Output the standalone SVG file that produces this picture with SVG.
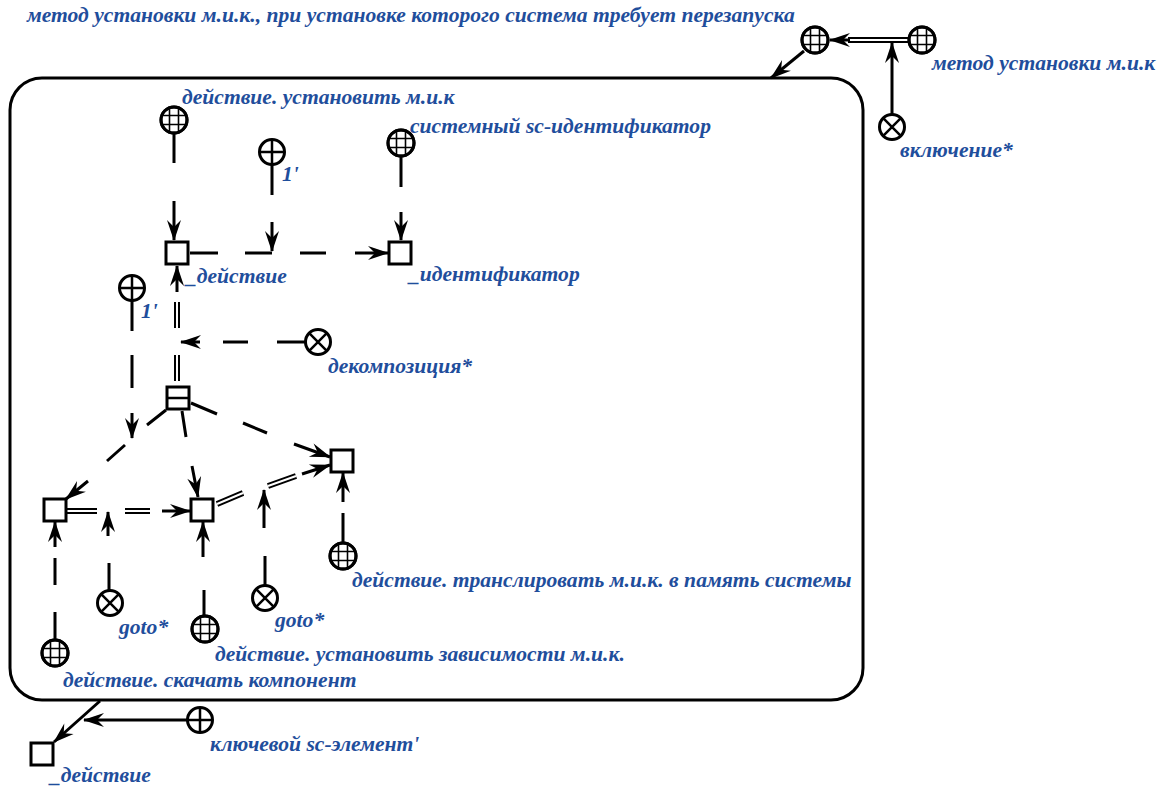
<svg xmlns="http://www.w3.org/2000/svg" xmlns:xlink="http://www.w3.org/1999/xlink" width="1163" height="790" viewBox="0 0 1163 790">
<style>
text{font-family:"Liberation Serif","DejaVu Serif",serif;font-weight:bold;font-style:italic;font-size:21.6px;fill:#1f4e9c}
.ln{fill:none;stroke:#000;stroke-width:3}
.dl{fill:none;stroke:#000;stroke-width:6}
.dw{fill:none;stroke:#fff;stroke-width:2}
.nd{fill:#fff;stroke:#000;stroke-width:3}
.gr{stroke:#000;stroke-width:1.6}
</style>
<defs>
<marker id="ar" viewBox="-22 -8 24 16" markerWidth="24" markerHeight="16" refX="0" refY="0" orient="auto" markerUnits="userSpaceOnUse">
<path d="M1,0 L-20,-7 L-13,0 L-20,7 z" fill="#000"/>
</marker>
<clipPath id="cc"><circle r="12"/></clipPath>
<g id="cls"><circle r="13" class="nd"/><g clip-path="url(#cc)"><path class="gr" d="M-4.5,-13V13M4.5,-13V13M-13,-4.5H13M-13,4.5H13"/></g><circle r="13" fill="none" stroke="#000" stroke-width="3"/></g>
<g id="pls"><circle r="12.5" class="nd"/><path stroke="#000" stroke-width="2.5" d="M0,-12.5V12.5M-12.5,0H12.5"/></g>
<g id="rel"><circle r="12.5" class="nd"/><path stroke="#000" stroke-width="2.5" d="M-8.8,-8.8L8.8,8.8M8.8,-8.8L-8.8,8.8"/></g>
<rect id="sq" x="-11" y="-11" width="22" height="22" class="nd"/>
</defs>

<g id="connectors">
<rect x="10" y="78" width="853" height="622" rx="32" ry="32" fill="none" stroke="#000" stroke-width="3"/>
<path class="dl" d="M909,40H848"/><path class="dw" d="M909,40H848"/>
<path class="ln" d="M850,40H830" marker-end="url(#ar)"/>
<path class="ln" d="M892,114V43" marker-end="url(#ar)"/>
<path class="ln" d="M804,51L771,78" marker-end="url(#ar)"/>
<path class="ln" d="M100,701L54,742" marker-end="url(#ar)"/>
<path class="ln" d="M187,720H84" marker-end="url(#ar)"/>
<path class="ln" d="M174,133V163M174,201V240" marker-end="url(#ar)"/>
<path class="ln" d="M190,253H218M245,253H272M300,253H326M355,253H388" marker-end="url(#ar)"/>
<path class="ln" d="M272,164V195M272,222V251" marker-end="url(#ar)"/>
<path class="ln" d="M401,156V187M401,212V240" marker-end="url(#ar)"/>
<path class="dl" d="M177,381V355M177,328V302"/><path class="dw" d="M177,381V355M177,328V302"/>
<path class="ln" d="M177,292V266" marker-end="url(#ar)"/>
<path class="ln" d="M305,342H277M248,342H223M200,342H181" marker-end="url(#ar)"/>
<path class="ln" d="M132,300V331M132,355V388M132,413V438" marker-end="url(#ar)"/>
<path class="ln" d="M166,410L147,425M125,445L107,461M88,481L66,499" marker-end="url(#ar)"/>
<path class="ln" d="M182,411L186,437M192,466L198,497" marker-end="url(#ar)"/>
<path class="ln" d="M191,403L217,414M243,423L267,433M294,444L330,457" marker-end="url(#ar)"/>
<path class="dl" d="M67,511H97M125,511H150"/><path class="dw" d="M67,511H97M125,511H150"/>
<path class="ln" d="M162,511H190" marker-end="url(#ar)"/>
<path class="ln" d="M109,590V563M108,536V512" marker-end="url(#ar)"/>
<path class="dl" d="M217,504L243,493M268,486L296,476"/><path class="dw" d="M217,504L243,493M268,486L296,476"/>
<path class="ln" d="M302,474L330,465" marker-end="url(#ar)"/>
<path class="ln" d="M265,585V556M264,528V490" marker-end="url(#ar)"/>
<path class="ln" d="M55,640V612M55,585V558M55,547V522" marker-end="url(#ar)"/>
<path class="ln" d="M204,616V590M203,557V522" marker-end="url(#ar)"/>
<path class="ln" d="M343,543V513M343,502V473" marker-end="url(#ar)"/>
</g>

<g id="nA"><use xlink:href="#cls" x="815" y="40"/><text x="27" y="22">метод установки м.и.к., при установке которого система требует перезапуска</text></g>
<g id="nB"><use xlink:href="#cls" x="922" y="40"/><text x="932" y="70">метод установки м.и.к</text></g>
<g id="nInc"><use xlink:href="#rel" x="892" y="127"/><text x="900" y="157">включение*</text></g>
<g id="nN1"><use xlink:href="#cls" x="174" y="120"/><text x="182" y="104">действие. установить м.и.к</text></g>
<g id="nP1"><use xlink:href="#pls" x="272" y="152"/><text x="282" y="181">1'</text></g>
<g id="nN2"><use xlink:href="#cls" x="401" y="143"/><text x="410" y="133">системный sc-идентификатор</text></g>
<g id="nS1"><use xlink:href="#sq" x="177" y="253"/><text x="186" y="283">_действие</text></g>
<g id="nS2"><use xlink:href="#sq" x="400" y="253"/><text x="409" y="281">_идентификатор</text></g>
<g id="nP2"><use xlink:href="#pls" x="132" y="288"/><text x="141" y="318">1'</text></g>
<g id="nX1"><use xlink:href="#rel" x="318" y="342"/><text x="328" y="373">декомпозиция*</text></g>
<g id="nT"><use xlink:href="#sq" x="178" y="398"/><path d="M167,398H189" stroke="#000" stroke-width="2.5"/></g>
<g id="nSL"><use xlink:href="#sq" x="55" y="510"/></g>
<g id="nSM"><use xlink:href="#sq" x="202" y="510"/></g>
<g id="nSR"><use xlink:href="#sq" x="342" y="461"/></g>
<g id="nX2"><use xlink:href="#rel" x="110" y="603"/><text x="119" y="634">goto*</text></g>
<g id="nX3"><use xlink:href="#rel" x="265" y="598"/><text x="275" y="627">goto*</text></g>
<g id="nG1"><use xlink:href="#cls" x="55" y="653"/><text x="63" y="687">действие. скачать компонент</text></g>
<g id="nG2"><use xlink:href="#cls" x="205" y="629"/><text x="215" y="661">действие. установить зависимости м.и.к.</text></g>
<g id="nG3"><use xlink:href="#cls" x="343" y="556"/><text x="352" y="587">действие. транслировать м.и.к. в память системы</text></g>
<g id="nSB"><use xlink:href="#sq" x="42" y="754"/><text x="50" y="782">_действие</text></g>
<g id="nPB"><use xlink:href="#pls" x="200" y="720"/><text x="210" y="751">ключевой sc-элемент'</text></g>
</svg>
